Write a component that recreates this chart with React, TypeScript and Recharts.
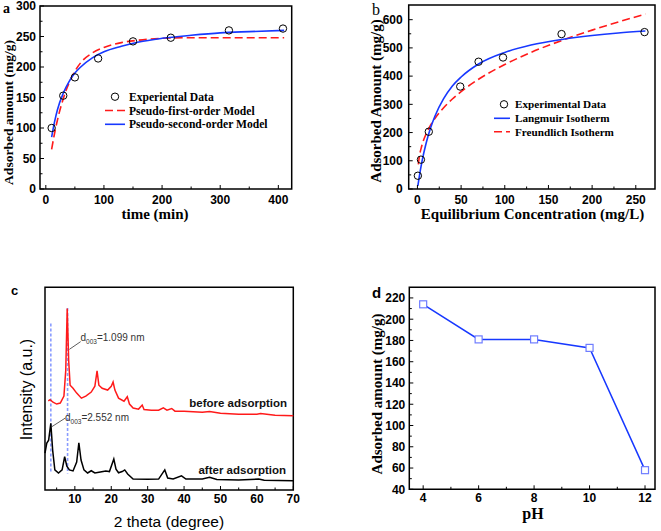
import React from 'react'
import { ComposedChart, LineChart, Line, Scatter, XAxis, YAxis, ReferenceArea, ReferenceLine } from 'recharts'

const W = 661
const H = 531
const SERIF = '"Liberation Serif", "Times New Roman", serif'
const SANS = '"Liberation Sans", Arial, sans-serif'
const RED = '#ff1a1a'
const BLUE = '#1738ff'

// (a) adsorption kinetics
const timeMin = [10, 30, 50, 90, 150, 215, 315, 408]
const amountExp = [100, 153, 183, 214, 242, 248, 260, 263]
const fitTime = [10, 15, 20, 30, 40, 50, 60, 80, 100, 130, 160, 200, 250, 300, 350, 410]
const pseudoFirst = [65, 91, 113, 148, 174, 193, 207, 223, 232, 240, 244, 247, 248, 248, 248, 248]
const pseudoSecond = [85, 110, 130, 157, 176, 190, 200, 215, 225, 234, 241, 247, 252, 256, 258, 260]
const aXMajor = [0, 100, 200, 300, 400]
const aXMinor = [50, 150, 250, 350]
const aYMajor = [0, 50, 100, 150, 200, 250, 300]
const aYMinor = [25, 75, 125, 175, 225, 275]

// (b) isotherm
const ceExp = [0.5, 4, 13, 49, 70, 98, 165, 260]
const qeExp = [47, 104, 203, 363, 451, 466, 549, 556]
const langC = [0.5, 2, 5, 10, 15, 20, 30, 40, 50, 70, 100, 130, 165, 200, 230, 261]
const langQ = [11, 41, 94, 163, 216, 258, 320, 365, 397, 443, 484, 510, 530, 544, 553, 560]
const freuC = [1, 2, 5, 10, 15, 20, 30, 40, 50, 70, 100, 130, 165, 200, 230, 261]
const freuQ = [87, 111, 153, 196, 226, 250, 288, 319, 345, 389, 441, 484, 526, 563, 592, 620]
const bXMajor = [0, 50, 100, 150, 200, 250]
const bXMinor = [25, 75, 125, 175, 225]
const bYMajor = [0, 100, 200, 300, 400, 500, 600]
const bYMinor = [50, 150, 250, 350, 450, 550]

// (c) XRD patterns (offset, arbitrary units)
const beforeTheta = [2.7, 3.2, 4, 5, 6, 7, 7.5, 7.9, 8.3, 8.7, 9.5, 10.5, 11.8, 13, 14.5, 15.5, 16.1, 16.6, 17.5, 19, 20, 20.5, 21, 22, 23.5, 24.4, 25, 26, 27.5, 28.5, 29, 31, 33, 34.3, 35.3, 36.6, 37.5, 40, 45, 47, 50, 55, 60, 61, 65, 70]
const beforeInt = [44, 44.6, 43.3, 42.4, 42.9, 46.3, 59, 89.5, 64, 51.7, 50.2, 47.8, 45.3, 46.3, 48.3, 51.2, 58.8, 51.7, 50.2, 49.3, 51.2, 53.3, 49.3, 45.3, 43.8, 46, 42.4, 40.4, 39.9, 41.9, 39.7, 39.4, 39.4, 40.5, 39.4, 40.2, 38.9, 38.9, 38.4, 38.7, 37.9, 37.4, 37.4, 37.7, 36.9, 36.6]
const afterTheta = [1.8, 2.3, 2.8, 3.4, 3.9, 4.5, 5.5, 6.5, 7.2, 7.8, 8.5, 9.5, 10.5, 11.1, 11.7, 12.5, 13.5, 14.5, 15.5, 17, 18.5, 19.5, 20.7, 21.3, 22, 23, 23.7, 24.5, 26, 30, 33, 34.7, 35.5, 37, 39.3, 40.5, 45, 47, 49, 55, 60.5, 62, 70]
const afterInt = [18.2, 23.2, 24.6, 32.9, 19.7, 9.9, 8.4, 9.9, 16.4, 11.8, 9.9, 9.4, 13.8, 23.3, 14.8, 9.9, 8.4, 9.5, 8.4, 8.9, 9.4, 9.1, 15.3, 10.3, 8.5, 9.1, 9.9, 7.9, 5.4, 5.3, 5.4, 9.9, 5.9, 5.4, 7, 5.4, 5.4, 6.3, 5.2, 4.9, 5.4, 4.8, 4.6]
const cXMajor = [10, 20, 30, 40, 50, 60, 70]
const cXMinor = [5, 15, 25, 35, 45, 55, 65]

// (d) pH effect
const phValues = [4, 6, 8, 10, 12]
const phAmount = [214, 181, 181, 173, 58]
const dXMajor = [4, 6, 8, 10, 12]
const dXMinor = [5, 7, 9, 11]
const dYMajor = [40, 60, 80, 100, 120, 140, 160, 180, 200, 220]
const dYMinor = [50, 70, 90, 110, 130, 150, 170, 190, 210]

const pairs = (xs: number[], ys: number[]) => xs.map((x, i) => ({ x, y: ys[i] }))

type TickOpts = { majors: number[]; size: number; off: number }

const bottomTick = (o: TickOpts) => (p: any) => {
  const v = p.payload.value
  const major = o.majors.includes(v)
  return (
    <g>
      <line x1={p.x} x2={p.x} y1={p.y} y2={p.y - (major ? 4 : 2.5)} stroke="#000" strokeWidth={1} />
      {major && (
        <text x={p.x} y={p.y + o.off} textAnchor="middle" fontFamily={SANS} fontWeight="bold" fontSize={o.size} fill="#000">
          {v}
        </text>
      )}
    </g>
  )
}

const leftTick = (o: TickOpts) => (p: any) => {
  const v = p.payload.value
  const major = o.majors.includes(v)
  return (
    <g>
      <line x1={p.x} x2={p.x + (major ? 4 : 2.5)} y1={p.y} y2={p.y} stroke="#000" strokeWidth={1} />
      {major && (
        <text x={p.x - o.off} y={p.y} dy="0.36em" textAnchor="end" fontFamily={SANS} fontWeight="bold" fontSize={o.size} fill="#000">
          {v}
        </text>
      )}
    </g>
  )
}

const sorted = (a: number[], b: number[]) => [...a, ...b].sort((m, n) => m - n)

const hollowCircle = (p: any) => <circle cx={p.cx} cy={p.cy} r={3.7} fill="none" stroke="#000" strokeWidth={1} />
const hollowSquare = (p: any) => (
  <rect key={p.index} x={p.cx - 3.5} y={p.cy - 3.5} width={7} height={7} fill="#fff" stroke="#6f7dff" strokeWidth={1.2} />
)

const layer: React.CSSProperties = { position: 'absolute', left: 0, top: 0 }

function PanelA() {
  return (
    <div style={layer}>
      <ComposedChart width={W} height={H} margin={{ left: 39, right: 369.3, top: 6, bottom: 341 }}>
        <XAxis type="number" dataKey="x" domain={[-10, 423]} ticks={sorted(aXMajor, aXMinor)} interval={0} height={1}
          axisLine={false} tickLine={false} tickSize={0} tickMargin={0} tick={bottomTick({ majors: aXMajor, size: 12, off: 14.5 })} />
        <YAxis type="number" dataKey="y" domain={[0, 300]} ticks={sorted(aYMajor, aYMinor)} interval={0} width={1}
          axisLine={false} tickLine={false} tickSize={0} tickMargin={0} tick={leftTick({ majors: aYMajor, size: 12, off: 4 })} />
        <ReferenceArea x1={-10} x2={423} y1={0} y2={300} fill="none" stroke="#000" strokeWidth={1.5} />
        <Line data={pairs(fitTime, pseudoFirst)} dataKey="y" type="monotone" stroke={RED} strokeWidth={1.6} strokeDasharray="8 4" dot={false} isAnimationActive={false} />
        <Line data={pairs(fitTime, pseudoSecond)} dataKey="y" type="monotone" stroke={BLUE} strokeWidth={1.6} dot={false} isAnimationActive={false} />
        <Scatter data={pairs(timeMin, amountExp)} dataKey="y" shape={hollowCircle} isAnimationActive={false} />
      </ComposedChart>
    </div>
  )
}

function PanelB() {
  return (
    <div style={layer}>
      <ComposedChart width={W} height={H} margin={{ left: 407.7, right: 6, top: 5, bottom: 341 }}>
        <XAxis type="number" dataKey="x" domain={[-10, 272]} ticks={sorted(bXMajor, bXMinor)} interval={0} height={1}
          axisLine={false} tickLine={false} tickSize={0} tickMargin={0} tick={bottomTick({ majors: bXMajor, size: 12, off: 14.5 })} />
        <YAxis type="number" dataKey="y" domain={[0, 652]} ticks={sorted(bYMajor, bYMinor)} interval={0} width={1}
          axisLine={false} tickLine={false} tickSize={0} tickMargin={0} tick={leftTick({ majors: bYMajor, size: 12, off: 6 })} />
        <ReferenceArea x1={-10} x2={272} y1={0} y2={652} fill="none" stroke="#000" strokeWidth={1.5} />
        <Line data={pairs(freuC, freuQ)} dataKey="y" type="monotone" stroke={RED} strokeWidth={1.6} strokeDasharray="8 4" dot={false} isAnimationActive={false} />
        <Line data={pairs(langC, langQ)} dataKey="y" type="monotone" stroke={BLUE} strokeWidth={1.6} dot={false} isAnimationActive={false} />
        <Scatter data={pairs(ceExp, qeExp)} dataKey="y" shape={hollowCircle} isAnimationActive={false} />
      </ComposedChart>
    </div>
  )
}

const guideLines = [
  { x: 3.4, top: 82.2, bottom: 8.2 },
  { x: 8.0, top: 89.8, bottom: 8.2 },
]
const leaders = [
  { from: { x: 8.5, y: 69.4 }, to: { x: 11.6, y: 73.2 } },
  { from: { x: 3.65, y: 31.2 }, to: { x: 7.3, y: 35.4 } },
]

function PanelC() {
  return (
    <div style={layer}>
      <ComposedChart width={W} height={H} margin={{ left: 44, right: 367.7, top: 287.3, bottom: 40 }}>
        <XAxis type="number" dataKey="x" domain={[1.8, 70]} ticks={sorted(cXMajor, cXMinor)} interval={0} height={1}
          axisLine={false} tickLine={false} tickSize={0} tickMargin={0} tick={bottomTick({ majors: cXMajor, size: 12, off: 12.5 })} />
        <YAxis type="number" dataKey="y" domain={[0, 100]} width={1} axisLine={false} tickLine={false} tick={false} />
        <ReferenceArea x1={1.8} x2={70} y1={0} y2={100} fill="none" stroke="#000" strokeWidth={1.5} />
        {guideLines.map((g, i) => (
          <ReferenceLine key={i} segment={[{ x: g.x, y: g.top }, { x: g.x, y: g.bottom }]} stroke="#8a9cff" strokeWidth={1.6} strokeDasharray="3 2" />
        ))}
        <Line data={pairs(beforeTheta, beforeInt)} dataKey="y" type="linear" stroke={RED} strokeWidth={1.5} dot={false} isAnimationActive={false} />
        <Line data={pairs(afterTheta, afterInt)} dataKey="y" type="linear" stroke="#000" strokeWidth={1.5} dot={false} isAnimationActive={false} />
        {leaders.map((l, i) => (
          <ReferenceLine key={'l' + i} segment={[l.from, l.to]} stroke="#333" strokeWidth={0.8} />
        ))}
      </ComposedChart>
    </div>
  )
}

function PanelD() {
  return (
    <div style={layer}>
      <LineChart width={W} height={H} data={pairs(phValues, phAmount)} margin={{ left: 408.3, right: 6, top: 287.3, bottom: 40.7 }}>
        <XAxis type="number" dataKey="x" domain={[3.5, 12.36]} ticks={sorted(dXMajor, dXMinor)} interval={0} height={1}
          axisLine={false} tickLine={false} tickSize={0} tickMargin={0} tick={bottomTick({ majors: dXMajor, size: 12, off: 13 })} />
        <YAxis type="number" dataKey="y" domain={[40, 230]} ticks={sorted(dYMajor, dYMinor)} interval={0} width={1}
          axisLine={false} tickLine={false} tickSize={0} tickMargin={0} tick={leftTick({ majors: dYMajor, size: 12, off: 4 })} />
        <ReferenceArea x1={3.5} x2={12.36} y1={40} y2={230} fill="none" stroke="#000" strokeWidth={1.5} />
        <Line dataKey="y" type="linear" stroke={BLUE} strokeWidth={1.5} dot={hollowSquare} isAnimationActive={false} />
      </LineChart>
    </div>
  )
}

function Labels() {
  const serifBold = { fontFamily: SERIF, fontWeight: 'bold' as const, fill: '#000' }
  return (
    <svg width={W} height={H} style={{ ...layer, pointerEvents: 'none' }}>
      {/* panel letters */}
      <text x={3} y={13} fontSize={14} {...serifBold}>a</text>
      <text x={372} y={15} fontSize={16} fontFamily={SERIF}>b</text>
      <text x={11} y={295} fontSize={13} fontFamily={SANS} fontWeight="bold">c</text>
      <text x={372} y={298} fontSize={15} fontFamily={SANS} fontWeight="bold">d</text>

      {/* axis titles */}
      <text transform="translate(13,112.5) rotate(-90)" textAnchor="middle" fontSize={13.5} {...serifBold}>Adsorbed amount (mg/g)</text>
      <text x={155} y={218.5} textAnchor="middle" fontSize={15} {...serifBold}>time (min)</text>
      <text transform="translate(380.5,101) rotate(-90)" textAnchor="middle" fontSize={15} {...serifBold}>Adsorbed Amount (mg/g)</text>
      <text x={532.5} y={218.5} textAnchor="middle" fontSize={15} {...serifBold}>Equilibrium Concentration (mg/L)</text>
      <text transform="translate(32,389.5) rotate(-90)" textAnchor="middle" fontSize={16} fontFamily={SANS}>Intensity (a.u.)</text>
      <text x={169} y={527} textAnchor="middle" fontSize={15.5} fontFamily={SANS}>2 theta (degree)</text>
      <text transform="translate(382,394) rotate(-90)" textAnchor="middle" fontSize={15} {...serifBold}>Adsorbed amount (mg/g)</text>
      <text x={533} y={519} textAnchor="middle" fontSize={16} {...serifBold}>pH</text>

      {/* legend a */}
      <circle cx={115} cy={96.7} r={3.7} fill="none" stroke="#000" />
      <text x={129} y={100.7} fontSize={11.6} {...serifBold}>Experiental Data</text>
      <line x1={105} x2={125} y1={110.5} y2={110.5} stroke={RED} strokeWidth={1.6} strokeDasharray="8 4" />
      <text x={129} y={114.5} fontSize={11.6} {...serifBold}>Pseudo-first-order Model</text>
      <line x1={105} x2={125} y1={124.3} y2={124.3} stroke={BLUE} strokeWidth={1.6} />
      <text x={129} y={128.3} fontSize={11.6} {...serifBold}>Pseudo-second-order Model</text>

      {/* legend b */}
      <circle cx={504} cy={104.3} r={3.7} fill="none" stroke="#000" />
      <text x={515} y={108.3} fontSize={11.2} {...serifBold}>Experimental Data</text>
      <line x1={494} x2={510} y1={118.3} y2={118.3} stroke={BLUE} strokeWidth={1.6} />
      <text x={515} y={122.3} fontSize={11.2} {...serifBold}>Langmuir Isotherm</text>
      <line x1={494} x2={510} y1={131.7} y2={131.7} stroke={RED} strokeWidth={1.6} strokeDasharray="8 4" />
      <text x={515} y={135.7} fontSize={11.2} {...serifBold}>Freundlich Isotherm</text>

      {/* XRD annotations */}
      <text x={80.5} y={340.5} fontSize={10} fontFamily={SANS} fill="#333">
        d<tspan fontSize={6.5} dy={3}>003</tspan><tspan dy={-3}>=1.099 nm</tspan>
      </text>
      <text x={65} y={420.5} fontSize={10} fontFamily={SANS} fill="#333">
        d<tspan fontSize={6.5} dy={3}>003</tspan><tspan dy={-3}>=2.552 nm</tspan>
      </text>
      <text x={287} y={407} textAnchor="end" fontSize={11.5} fontFamily={SANS} fontWeight="bold" fill="#111">before adsorption</text>
      <text x={286} y={474} textAnchor="end" fontSize={11.5} fontFamily={SANS} fontWeight="bold" fill="#111">after adsorption</text>
    </svg>
  )
}

export default function App() {
  return (
    <div style={{ position: 'absolute', left: 0, top: 0, width: W, height: H, background: '#fff', overflow: 'hidden' }}>
      <PanelA />
      <PanelB />
      <PanelC />
      <PanelD />
      <Labels />
    </div>
  )
}
